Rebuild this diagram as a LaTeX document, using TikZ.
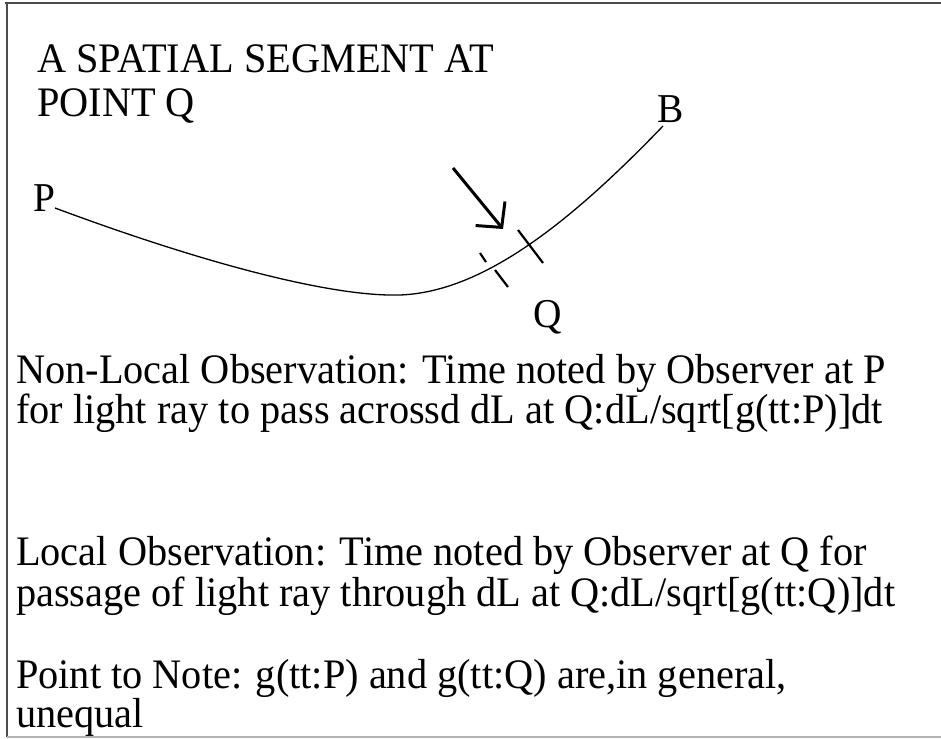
\documentclass[tikz,border=0pt]{standalone}
\usepackage{fontspec}
\setmainfont[FakeStretch=0.96]{Liberation Serif}
\usepackage{tikz}
\usetikzlibrary{arrows.meta}

\begin{document}
\begin{tikzpicture}[
x=1pt, y=-1pt,
txt/.style={anchor=base west, inner sep=0pt, font=\fontsize{42}{46}\selectfont},
lbl/.style={anchor=base west, inner sep=0pt, font=\fontsize{41}{44}\selectfont},
frame/.style={line width=2pt, black!70},
seg/.style={line width=1.3pt},
tick/.style={line width=2.2pt},
arr/.style={-{Straight Barb[length=18pt,width=38pt]}, line width=3pt}
]
\useasboundingbox (0,0) rectangle (941,738);
\draw[frame] (5,3) -- (941,3);
\draw[frame] (7,3) -- (7,737);
\draw[frame, black!30] (7,737) -- (941,737);

\node[txt] (t1) at (37,73) {A SPATIAL SEGMENT AT};
\node[txt] (t2) at (37,117) {POINT Q};

\coordinate (p) at (55,208);
\coordinate (b) at (663,126);
\draw[seg] (p) .. controls (200,262) and (330,297) .. (400,295)
  .. controls (480,292) and (565,228) .. (b);
\node[lbl] (lp) at (33,211) {P};
\node[lbl] (lb) at (657,123) {B};
\node[lbl] (lq) at (533,327) {Q};

% the element dL
\draw[tick] (518,230) -- (543,263);
\draw[tick] (495,270) -- (508,287);
\draw[tick] (480,253) -- (486,262);
\coordinate (atail) at (453,168);
\coordinate (ahead) at (503,229);
\draw[arr] (atail) -- (ahead);

\node[txt] (n1) at (16,383) {Non-Local Observation: Time noted by Observer at P};
\node[txt] (n2) at (16,423) {for light ray to pass acrossd dL at Q:dL/sqrt[g(tt:P)]dt};
\node[txt] (l1) at (16,565) {Local Observation: Time noted by Observer at Q for};
\node[txt] (l2) at (16,606) {passage of light ray through dL at Q:dL/sqrt[g(tt:Q)]dt};
\node[txt] (m1) at (16,688) {Point to Note: g(tt:P) and g(tt:Q) are,in general,};
\node[txt] (m2) at (16,727) {unequal};
\end{tikzpicture}
\end{document}
